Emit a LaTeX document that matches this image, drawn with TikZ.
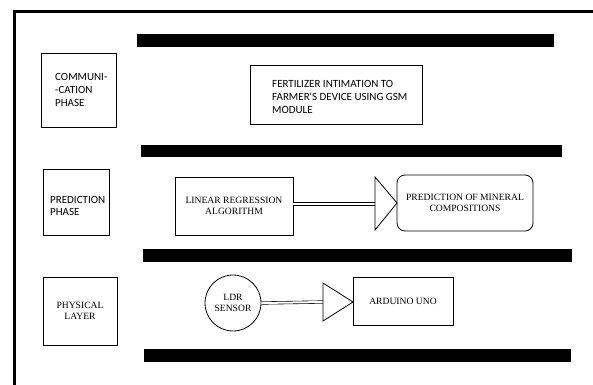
\documentclass[tikz,border=0pt]{standalone}
\usepackage{fontspec}
\setmainfont{Liberation Serif}
\newfontfamily\calfont{Carlito}
\begin{document}
\begin{tikzpicture}[x=1pt,y=-1pt,
  bar/.style={fill=black},
  boxx/.style={draw, line width=0.8pt, inner sep=0pt},
  sanslbl/.style={font=\calfont\fontsize{11}{12.8}\selectfont, align=left, inner sep=0pt},
  serlbl/.style={font=\fontsize{9.6}{11}\selectfont, align=center},
  dbl/.style={double, double distance=2pt, line width=0.6pt},
  tri/.style={draw, line width=0.8pt, fill=white}]
\useasboundingbox (0,0) rectangle (593,384);
\fill[white] (0,0) rectangle (593,384);
% outer frame
\draw[line width=3pt] (14,390) -- (14,11) -- (600,11);
% bars
\fill[bar] (137,34) rectangle (554,47);
\fill[bar] (141,145) rectangle (562,157);
\fill[bar] (143,249) rectangle (572,262);
\fill[bar] (144,349) rectangle (571,362);
% communication phase
\draw[boxx] (41,53) rectangle (116,127);
\node[sanslbl, anchor=west] (comm) at (55,90) {COMMUNI-\\-CATION\\PHASE};
\draw[boxx] (250,65) rectangle (422,124);
\node[sanslbl, anchor=west] (fert) at (272,97) {FERTILIZER INTIMATION TO\\FARMER'S DEVICE USING GSM\\MODULE};
% prediction phase
\draw[boxx] (43,169) rectangle (109,235);
\node[sanslbl, anchor=west] (pred) at (50,206) {PREDICTION\\PHASE};
\node[boxx, minimum width=118pt, minimum height=58pt, serlbl] (lr) at (234,206) {LINEAR REGRESSION\\ALGORITHM};
\node[boxx, rounded corners=8pt, minimum width=136pt, minimum height=56pt, serlbl] (pm) at (465,203) {PREDICTION OF MINERAL\\COMPOSITIONS};
\coordinate (t1) at (375,204);
\draw[dbl] (lr.east |- t1) -- (t1);
\draw[tri] (375,177) -- (397,203) -- (375,230) -- cycle;
% physical layer
\node[boxx, minimum width=74pt, minimum height=68pt, serlbl] (phys) at (80,311) {PHYSICAL\\LAYER};
\node[draw, circle, line width=0.8pt, minimum size=56pt, inner sep=0pt, serlbl] (ldr) at (233,303) {LDR\\SENSOR};
\node[boxx, minimum width=100pt, minimum height=48pt, serlbl] (ard) at (403,301) {ARDUINO UNO};
\coordinate (t2) at (323,302);
\draw[dbl] (ldr.east) -- (t2);
\draw[tri] (323,283) -- (353,302) -- (323,321) -- cycle;
\end{tikzpicture}
\end{document}
